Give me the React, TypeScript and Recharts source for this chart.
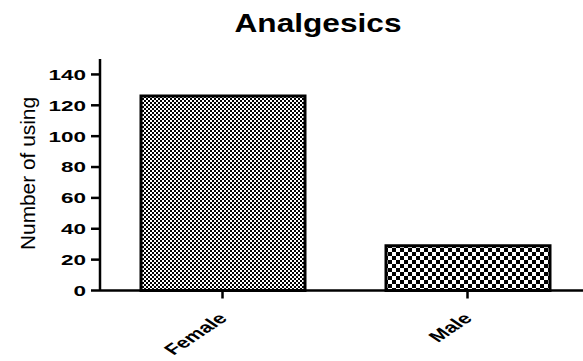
import React from "react";
import { Bar, BarChart, Cell, XAxis, YAxis } from "recharts";

const categories = ["Female", "Male"];
const usingCounts = [126, 29];
const yTicks = [0, 20, 40, 60, 80, 100, 120, 140];
const title = "Analgesics";
const yTitle = "Number of using";

const data = categories.map((name, i) => ({ name, count: usingCounts[i] }));
const fills = ["url(#fineCheck)", "url(#coarseCheck)"];
const FONT = "'Liberation Sans', Arial, sans-serif";

function YTick(props: any) {
    const { x, y, payload } = props;
    return (
        <g transform={`translate(${x},${y}) scale(1.5,1)`}>
            <text x={0} y={0} dy="0.36em" textAnchor="end" fontFamily={FONT} fontWeight="bold" fontSize={15} fill="#000">
                {payload.value}
            </text>
        </g>
    );
}

function XTick(props: any) {
    const { x, y, payload } = props;
    return (
        <g transform={`translate(${x},${y + 15}) scale(1.5,1) rotate(-45)`}>
            <text x={0} y={0} dy="0.36em" textAnchor="end" fontFamily={FONT} fontWeight="bold" fontSize={15} fill="#000">
                {payload.value}
            </text>
        </g>
    );
}

export default function App() {
    return (
        <div style={{ position: "absolute", left: 0, top: 0, width: 583, height: 361, overflow: "hidden", background: "#fff" }}>
            <svg width={583} height={361} style={{ position: "absolute", left: 0, top: 0 }}>
                <text x={318} y={32} textAnchor="middle" fontFamily={FONT} fontWeight="bold" fontSize={25} textLength={167} lengthAdjust="spacingAndGlyphs" fill="#000">
                    {title}
                </text>
                <text transform="translate(35,173.5) rotate(-90)" textAnchor="middle" fontFamily={FONT} fontSize={20} textLength={153} lengthAdjust="spacingAndGlyphs" fill="#000">
                    {yTitle}
                </text>
            </svg>
            <div style={{ position: "absolute", left: 0, top: 0 }}>
                <BarChart width={600} height={361} data={data} margin={{ top: 59, right: 10, bottom: 0, left: 0 }}>
                    <defs>
                        <pattern id="fineCheck" patternUnits="userSpaceOnUse" width={4} height={4}>
                            <rect width={4} height={4} fill="#fff" />
                            <rect width={2} height={2} fill="#000" />
                            <rect x={2} y={2} width={2} height={2} fill="#000" />
                        </pattern>
                        <pattern id="coarseCheck" patternUnits="userSpaceOnUse" width={8} height={8}>
                            <rect width={8} height={8} fill="#fff" />
                            <rect width={4} height={4} fill="#000" />
                            <rect x={4} y={4} width={4} height={4} fill="#000" />
                        </pattern>
                    </defs>
                    <XAxis
                        dataKey="name"
                        height={70.5}
                        axisLine={{ stroke: "#000", strokeWidth: 2.5 }}
                        tickLine={{ stroke: "#000", strokeWidth: 2.5 }}
                        tickSize={8}
                        tickMargin={2}
                        tick={<XTick />}
                        interval={0}
                    />
                    <YAxis
                        width={100}
                        domain={[0, 150]}
                        ticks={yTicks}
                        axisLine={{ stroke: "#000", strokeWidth: 2.5 }}
                        tickLine={{ stroke: "#000", strokeWidth: 2.5 }}
                        tickSize={9}
                        tickMargin={5}
                        tick={<YTick />}
                        interval={0}
                    />
                    <Bar dataKey="count" barSize={164} stroke="#000" strokeWidth={3} isAnimationActive={false}>
                        {data.map((d, i) => (
                            <Cell key={d.name} fill={fills[i]} />
                        ))}
                    </Bar>
                </BarChart>
            </div>
        </div>
    );
}
